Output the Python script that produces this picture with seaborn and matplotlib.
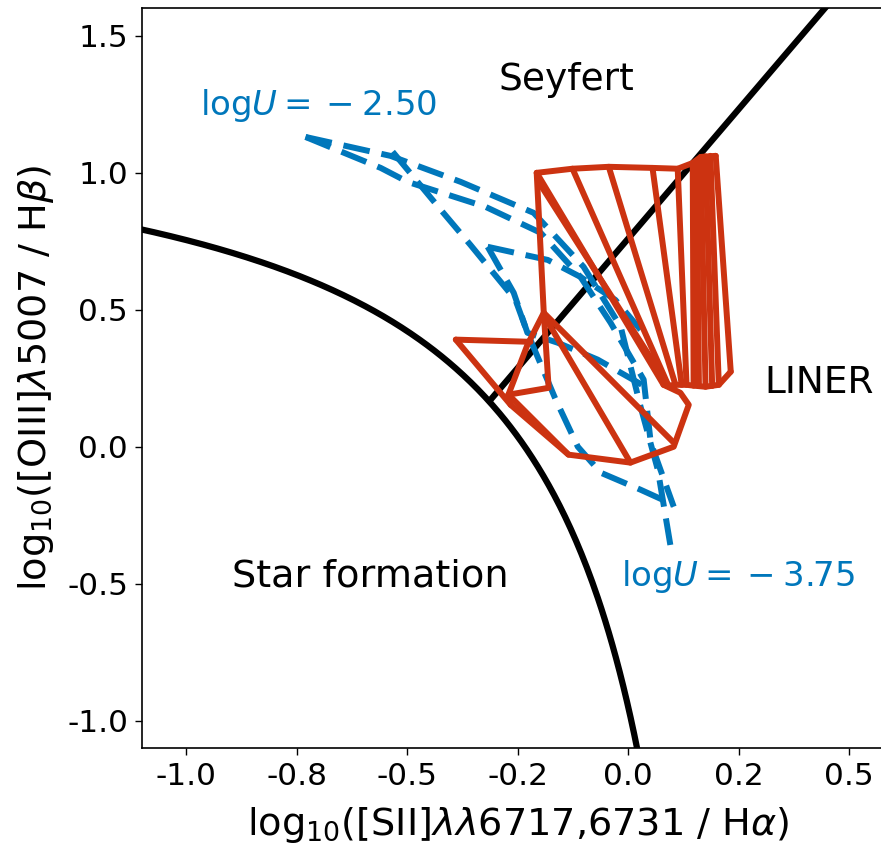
import numpy as np
import pandas as pd
import matplotlib
matplotlib.use("Agg")
import matplotlib.pyplot as plt
import seaborn as sns
from matplotlib.ticker import FormatStrFormatter

# ---------------- data ----------------
# Kewley et al. demarcation coefficients
sf_a, sf_b, sf_c = 0.72, 0.32, 1.30      # y = a/(x-b)+c
sy_m, sy_k = 1.89, 0.76                  # y = m x + k

# red model grid (polylines)
red_top_x = [-0.207, -0.126, -0.044, 0.055, 0.112, 0.146, 0.164, 0.198]
red_top_y = [1.000, 1.015, 1.022, 1.018, 1.015, 1.036, 1.058, 1.062]

red_bot_x = [-0.390, -0.266, -0.135, 0.005, 0.103, 0.137, 0.118, 0.080, 0.091, 0.107,
             0.121, 0.132, 0.148, 0.175, 0.205, 0.232]
red_bot_y = [0.391, 0.153, -0.029, -0.058, 0.0, 0.153, 0.197, 0.226, 0.223, 0.226,
             0.226, 0.226, 0.223, 0.219, 0.226, 0.274]

red_left_x = [-0.207, -0.191, -0.228, -0.271, -0.266]
red_left_y = [1.000, 0.489, 0.372, 0.190, 0.153]

red_fan_x0 = [-0.207, -0.200, -0.126, -0.044, 0.055, 0.112, 0.146, 0.155, 0.164, 0.175, 0.186, 0.198]
red_fan_y0 = [1.000, 0.960, 1.015, 1.022, 1.018, 1.015, 1.036, 1.045, 1.058, 1.060, 1.062, 1.062]
red_fan_x1 = [0.080, 0.091, 0.091, 0.107, 0.121, 0.132, 0.148, 0.160, 0.175, 0.190, 0.205, 0.232]
red_fan_y1 = [0.226, 0.223, 0.223, 0.226, 0.226, 0.226, 0.223, 0.222, 0.219, 0.222, 0.226, 0.274]

red_extra = [
    ([-0.390, -0.221], [0.391, 0.383]),
    ([-0.191, -0.180, -0.271], [0.489, 0.215, 0.190]),
    ([-0.191, 0.101], [0.489, 0.018]),
    ([-0.185, 0.005], [0.464, -0.058]),
    ([-0.271, -0.135], [0.190, -0.029]),
]

# blue logU tracks (logU = -2.50 ... -3.75)
blue_a_x = [-0.730, -0.538, -0.379, -0.214, -0.101, -0.017, 0.028, 0.067, 0.096]
blue_a_y = [1.131, 1.062, 0.967, 0.854, 0.657, 0.438, 0.146, -0.084, -0.365]
blue_b_x = [-0.730, -0.560, -0.499, -0.323, -0.198, -0.108, -0.040, 0.035, 0.051, 0.103]
blue_b_y = [1.131, 1.018, 0.967, 0.876, 0.781, 0.620, 0.453, 0.245, 0.015, -0.219]
blue_d_x = [-0.533, -0.424, -0.357, -0.255, -0.228, -0.164, -0.114, -0.062, 0.028, 0.103]
blue_d_y = [1.077, 0.865, 0.737, 0.536, 0.416, 0.172, 0.000, -0.095, -0.157, -0.212]
blue_e1_x = [-0.318, -0.182, -0.108, -0.029, 0.028]
blue_e1_y = [0.730, 0.682, 0.620, 0.536, 0.427]
blue_e2_x = [-0.318, -0.259, -0.228, -0.160, -0.069, 0.039]
blue_e2_y = [0.730, 0.562, 0.416, 0.380, 0.318, 0.219]

x_ticks = [-1.0, -0.75, -0.5, -0.25, 0.0, 0.25, 0.5]
y_ticks = [-1.0, -0.5, 0.0, 0.5, 1.0, 1.5]

BLUE = "#0077BB"
RED = "#CC3311"

# ---------------- plot ----------------
sns.set_theme(style="ticks")
plt.rcParams["font.family"] = ["DejaVu Sans"]
plt.rcParams["mathtext.fontset"] = "dejavusans"

fig = plt.figure(figsize=(8.81, 8.46), dpi=100)
ax = fig.add_axes([142 / 881, 98 / 846, 751.4 / 881, 739.5 / 846])

def line(xs, ys, **kw):
    sns.lineplot(x=xs, y=ys, sort=False, estimator=None, ax=ax, legend=False, **kw)

# demarcation lines
xs_sf = np.linspace(-1.2, 0.03, 300)
line(xs_sf, sf_a / (xs_sf - sf_b) + sf_c, color="black", lw=4.5, zorder=2)
xs_sy = np.linspace(-0.313, 0.6, 50)
line(xs_sy, sy_m * xs_sy + sy_k, color="black", lw=4.5, zorder=2)

# blue tracks
blue_tracks = [(blue_a_x, blue_a_y), (blue_b_x, blue_b_y), (blue_d_x, blue_d_y),
               (blue_e1_x, blue_e1_y), (blue_e2_x, blue_e2_y)]
for bx, by in blue_tracks:
    line(bx, by, color=BLUE, lw=4.3, dashes=(4.5, 2.0), zorder=3)

# red grid
rkw = dict(color=RED, lw=4.3, zorder=4)
line(red_top_x, red_top_y, **rkw)
line(red_bot_x, red_bot_y, **rkw)
line(red_left_x, red_left_y, **rkw)
for x0, y0, x1, y1 in zip(red_fan_x0, red_fan_y0, red_fan_x1, red_fan_y1):
    line([x0, x1], [y0, y1], **rkw)
for ex, ey in red_extra:
    line(ex, ey, **rkw)

ax.set_xlim(-1.1, 0.6)
ax.set_ylim(-1.1, 1.6)
ax.set_xticks(x_ticks)
ax.set_yticks(y_ticks)
ax.xaxis.set_major_formatter(FormatStrFormatter("%.1f"))
ax.yaxis.set_major_formatter(FormatStrFormatter("%.1f"))
ax.tick_params(labelsize=22.5, length=5, width=1, color="black", labelcolor="black", pad=5)
for s in ax.spines.values():
    s.set_color("black")
    s.set_linewidth(1.2)

ax.set_xlabel(r"log$_{10}$([SII]$\lambda\lambda$6717,6731 / H$\alpha$)", fontsize=27.5,
              color="black", labelpad=10)
ax.set_ylabel(r"log$_{10}$([OIII]$\lambda$5007 / H$\beta$)", fontsize=27.5,
              color="black", labelpad=8)

ax.text(-0.141, 1.34, "Seyfert", fontsize=27, ha="center", va="center", color="black")
ax.text(0.431, 0.234, "LINER", fontsize=27, ha="center", va="center", color="black")
ax.text(-0.583, -0.474, "Star formation", fontsize=27.5, ha="center", va="center", color="black")
ax.text(-0.70, 1.245, r"log$U = \:-\:2.50$", fontsize=24.5, ha="center", va="center", color=BLUE)
ax.text(0.248, -0.474, r"log$U = \:-\:3.75$", fontsize=24.5, ha="center", va="center", color=BLUE)

fig.savefig("out.png", dpi=100)
